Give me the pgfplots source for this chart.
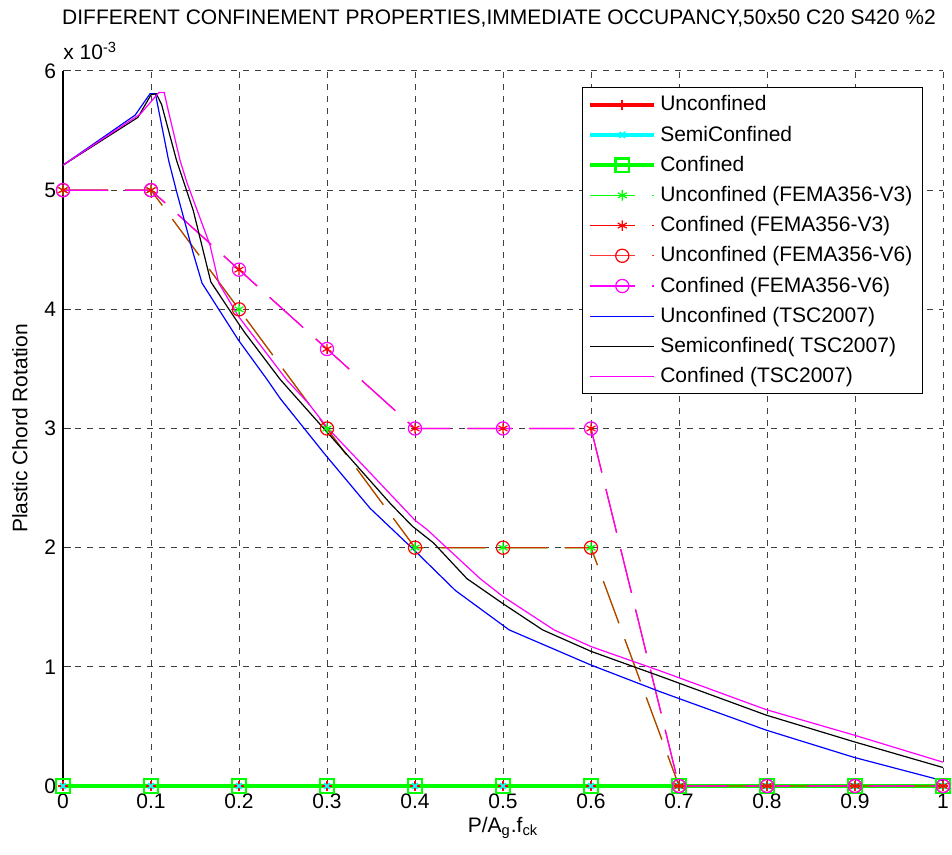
\documentclass[border=0pt]{standalone}
\usepackage{fontspec}
\setmainfont{Liberation Sans}
\usepackage{pgfplots}
\usepackage{pgfplotstable}
\pgfplotsset{compat=1.18}

\definecolor{mgreen}{RGB}{0,255,0}
\definecolor{mcyan}{RGB}{0,255,255}
\definecolor{mmag}{RGB}{255,0,255}
\definecolor{mred}{RGB}{255,0,0}
\definecolor{mblue}{RGB}{0,0,255}

% zero series (strength based)
\pgfplotstableread{
x y
0 0
0.1 0
0.2 0
0.3 0
0.4 0
0.5 0
0.6 0
0.7 0
0.8 0
0.9 0
1.0 0
}\zerodata

% FEMA356 unconfined
\pgfplotstableread{
x y
0 5
0.1 5
0.2 4
0.3 3
0.4 2
0.5 2
0.6 2
0.7 0
0.8 0
0.9 0
1.0 0
}\femaunc

% FEMA356 confined
\pgfplotstableread{
x y
0 5
0.1 5
0.2 4.333
0.3 3.667
0.4 3
0.5 3
0.6 3
0.7 0
0.8 0
0.9 0
1.0 0
}\femacon

% TSC2007 curves
\pgfplotstableread{
x y
0 5.21
0.082 5.63
0.099 5.81
0.105 5.81
0.120 5.25
0.129 4.99
0.148 4.47
0.158 4.22
0.1995 3.74
0.232 3.41
0.247 3.25
0.298 2.78
0.349 2.33
0.399 1.98
0.446 1.64
0.507 1.31
0.600 1.015
0.679 0.79
0.799 0.469
0.899 0.240
1.0 0.044
}\tscunc

\pgfplotstableread{
x y
0 5.21
0.085 5.61
0.100 5.80
0.106 5.81
0.112 5.72
0.129 5.25
0.148 4.83
0.168 4.23
0.1995 3.88
0.207 3.80
0.247 3.41
0.300 2.97
0.372 2.37
0.397 2.18
0.421 2.04
0.459 1.74
0.500 1.53
0.545 1.31
0.600 1.13
0.679 0.92
0.799 0.595
0.899 0.371
1.0 0.155
}\tscsemi

\pgfplotstableread{
x y
0 5.21
0.088 5.64
0.109 5.82
0.115 5.82
0.118 5.72
0.133 5.25
0.141 5.06
0.167 4.54
0.177 4.22
0.1995 3.94
0.254 3.41
0.279 3.21
0.300 3.01
0.400 2.23
0.414 2.15
0.474 1.74
0.500 1.59
0.558 1.31
0.600 1.17
0.679 0.965
0.799 0.641
0.899 0.427
1.0 0.20
}\tsccon

\begin{document}
\begin{tikzpicture}[font=\fontsize{10.5}{12.6}\selectfont]
\begin{axis}[
  name=ax,
  scale only axis,
  width=440pt, height=357.5pt,
  xmin=0, xmax=1, ymin=0, ymax=6,
  clip=false,
  axis x line*=bottom, axis y line*=left,
  axis line style={-, black, line width=0.6pt},
  xtick={0,0.1,...,1.0},
  xticklabels={0,0.1,0.2,0.3,0.4,0.5,0.6,0.7,0.8,0.9,1},
  ytick={0,1,2,3,4,5,6},
  tick align=inside,
  major tick length=4pt,
  tick style={black!80, line width=0.5pt},
  /pgf/number format/assume math mode=true,
  scaled y ticks=false,
  xticklabel style={yshift=-0.5pt},
  grid=major,
  grid style={black!75, line width=0.5pt, dash pattern=on 3pt off 3pt},
  xlabel={P/A$_{\mathrm{g}}$.f$_{\mathrm{ck}}$},
  ylabel={Plastic Chord Rotation},
  xlabel style={at={(axis description cs:0.5,-0.034)}, anchor=north},
  ylabel style={at={(axis description cs:-0.049,0.5)}, anchor=center},
  legend style={at={(1,1)}, anchor=north east, xshift=-10pt, yshift=-8pt,
    draw=black, line width=0.6pt, fill=white, font=\fontsize{10.5}{12.6}\selectfont,
    row sep=2pt, inner xsep=3pt, inner ysep=2pt,
    /tikz/every even column/.append style={column sep=2pt}},
  legend cell align=left,
  legend image code/.code={\draw[mark repeat=2,mark phase=2,#1] plot coordinates {(0pt,0pt) (16pt,0pt) (32pt,0pt)};},
]
% strength-based series (all zero)
\addplot[mred, line width=2pt, mark=+, mark size=2.5pt, mark options={line width=1pt}] table {\zerodata};
\addlegendentry{Unconfined}
\addplot[mcyan, line width=2pt, mark=x, mark size=2pt, mark options={line width=1pt}] table {\zerodata};
\addlegendentry{SemiConfined}
\addplot[mgreen, line width=2pt, mark=square, mark size=3.4pt, mark options={line width=1.2pt}] table {\zerodata};
\addlegendentry{Confined}
% FEMA356
\addplot[mgreen, line width=0.6pt, dash pattern=on 22.5pt off 8.5pt, mark=asterisk, mark size=2.6pt, mark options={solid}] table {\femaunc};
\addlegendentry{Unconfined (FEMA356-V3)}
\addplot[mred, line width=0.6pt, dash pattern=on 22.5pt off 8.5pt, mark=asterisk, mark size=2.6pt, mark options={solid}] table {\femacon};
\addlegendentry{Confined (FEMA356-V3)}
\addplot[mred, draw opacity=0.8, line width=0.6pt, dash pattern=on 22.5pt off 8.5pt, mark=o, mark size=3.3pt, mark options={solid, draw opacity=1}] table {\femaunc};
\addlegendentry{Unconfined (FEMA356-V6)}
\addplot[mmag, line width=0.6pt, dash pattern=on 22.5pt off 8.5pt, mark=o, mark size=3.3pt, mark options={solid}] table {\femacon};
\addlegendentry{Confined (FEMA356-V6)}
% TSC2007
\addplot[mblue, line width=0.6pt, no marks] table {\tscunc};
\addlegendentry{Unconfined (TSC2007)}
\addplot[black, line width=0.6pt, no marks] table {\tscsemi};
\addlegendentry{Semiconfined( TSC2007)}
\addplot[mmag, line width=0.6pt, no marks] table {\tsccon};
\addlegendentry{Confined (TSC2007)}

\node[anchor=base west, inner sep=0pt] at ([yshift=5.5pt]rel axis cs:0,1) {x 10\textsuperscript{-3}};
\node[anchor=base, inner sep=0pt] at ([yshift=23.25pt, xshift=-2pt]rel axis cs:0.5,1)
  {DIFFERENT CONFINEMENT PROPERTIES,IMMEDIATE OCCUPANCY,50x50 C20 S420 \%2};
\end{axis}
\pgfresetboundingbox
\path ([xshift=-31.5pt,yshift=-34.5pt]ax.south west) rectangle ([xshift=4.5pt,yshift=35.5pt]ax.north east);
\end{tikzpicture}
\end{document}
